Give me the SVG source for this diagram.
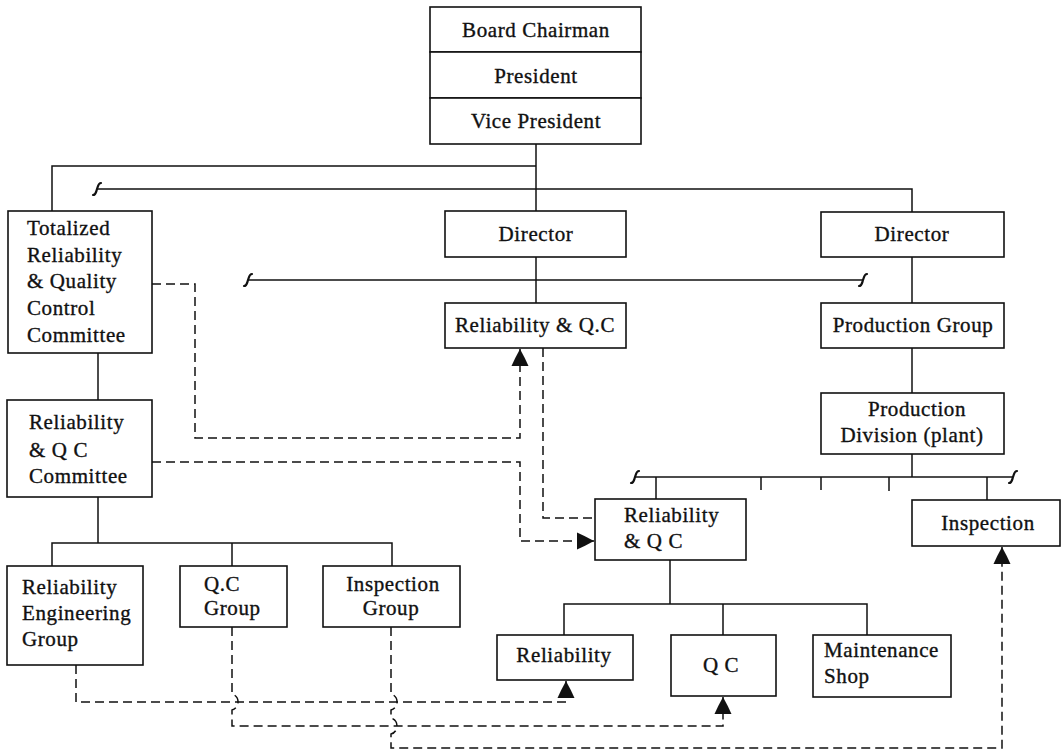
<svg xmlns="http://www.w3.org/2000/svg" width="1062" height="751" viewBox="0 0 1062 751">
<style>
  .box{fill:#fff;stroke:#111;stroke-width:1.6}
  .t{font-family:"Liberation Serif","Times New Roman",serif;font-size:21px;letter-spacing:0.6px;fill:#111;stroke:#111;stroke-width:0.35}
  .c{text-anchor:middle}
  .ln{fill:none;stroke:#111;stroke-width:1.5}
  .ds{fill:none;stroke:#111;stroke-width:1.5;stroke-dasharray:9 5}
  .sq{fill:none;stroke:#111;stroke-width:2.2;stroke-linecap:round}
</style>
<defs>
  <marker id="ah" markerUnits="userSpaceOnUse" markerWidth="22" markerHeight="22" refX="17" refY="9" orient="auto">
    <path d="M0,0.5 Q8,4 17,9 Q8,14 0,17.5 Z" fill="#111"/>
  </marker>
</defs>
<rect width="1062" height="751" fill="#fff"/>

<g id="connectors">
  <path class="ln" d="M536,144 V211"/>
  <path class="ln" d="M536,166 H52 V211"/>
  <path class="ln" d="M97,189 H912 V212"/>
  <path class="ln" d="M536,257 V303"/>
  <path class="ln" d="M248,280 H863"/>
  <path class="ln" d="M912,257 V303"/>
  <path class="ln" d="M912,348 V393"/>
  <path class="ln" d="M912,454 V477"/>
  <path class="ln" d="M635,477 H1013"/>
  <path class="ln" d="M656,477 V499 M761,477 V490 M821,477 V490 M889,477 V491 M987,477 V500"/>
  <path class="ln" d="M98,353 V400"/>
  <path class="ln" d="M98,497 V543 M52,566 V543 H392 V566 M232,543 V566"/>
  <path class="ln" d="M670,560 V604 M564,635 V604 H867 V635 M723,604 V635"/>
  <path class="sq" d="M101,183 C98,183 98,187 97,189 C96,192 96,195 93,195"/>
  <path class="sq" d="M252,274 C249,274 249,278 248,280 C247,283 247,286 244,286"/>
  <path class="sq" d="M867,274 C864,274 864,278 863,280 C862,283 862,286 859,286"/>
  <path class="sq" d="M639,471 C636,471 636,475 635,477 C634,480 634,483 631,483"/>
  <path class="sq" d="M1017,471 C1014,471 1014,475 1013,477 C1012,480 1012,483 1009,483"/>
  <path class="ds" d="M152,284 H195 V438 H520 V349" marker-end="url(#ah)"/>
  <path class="ds" d="M152,462 H520 V541 H594" marker-end="url(#ah)"/>
  <path class="ds" d="M543,348 V518 H595"/>
  <path class="ds" d="M76,665 V702 H566 V681" marker-end="url(#ah)"/>
  <path class="ds" d="M232,627 V694 C240,696 240,708 232,710 V726 H723 V697" marker-end="url(#ah)"/>
  <path class="ds" d="M391,627 V694 C399,696 399,708 391,710 V718 C399,720 399,732 391,734 V748 H1002 V547" marker-end="url(#ah)"/>
</g>

<g id="top-stack">
  <rect class="box" x="430" y="7" width="211" height="45"/>
  <rect class="box" x="430" y="52" width="211" height="46"/>
  <rect class="box" x="430" y="98" width="211" height="46"/>
  <text class="t c" x="536" y="37">Board Chairman</text>
  <text class="t c" x="536" y="83">President</text>
  <text class="t c" x="536" y="128">Vice President</text>
</g>

<g id="totalized-committee">
  <rect class="box" x="8" y="211" width="144" height="142"/>
  <text class="t" x="27" y="235">Totalized</text>
  <text class="t" x="27" y="262">Reliability</text>
  <text class="t" x="27" y="288">&amp; Quality</text>
  <text class="t" x="27" y="315">Control</text>
  <text class="t" x="27" y="342">Committee</text>
</g>

<g id="director-mid">
  <rect class="box" x="445" y="211" width="181" height="46"/>
  <text class="t c" x="536" y="241">Director</text>
</g>

<g id="director-right">
  <rect class="box" x="821" y="212" width="183" height="45"/>
  <text class="t c" x="912" y="241">Director</text>
</g>

<g id="rel-qc-top">
  <rect class="box" x="445" y="303" width="181" height="45"/>
  <text class="t c" x="535" y="332">Reliability &amp; Q.C</text>
</g>

<g id="production-group">
  <rect class="box" x="821" y="303" width="183" height="45"/>
  <text class="t c" x="913" y="332">Production Group</text>
</g>

<g id="production-division">
  <rect class="box" x="821" y="393" width="183" height="61"/>
  <text class="t c" x="917" y="416">Production</text>
  <text class="t c" x="912" y="442">Division (plant)</text>
</g>

<g id="rel-qc-committee">
  <rect class="box" x="7" y="400" width="145" height="97"/>
  <text class="t" x="29" y="429">Reliability</text>
  <text class="t" x="29" y="457">&amp; Q C</text>
  <text class="t" x="29" y="483">Committee</text>
</g>

<g id="rel-qc-plant">
  <rect class="box" x="595" y="499" width="151" height="61"/>
  <text class="t" x="624" y="522">Reliability</text>
  <text class="t" x="624" y="548">&amp; Q C</text>
</g>

<g id="inspection">
  <rect class="box" x="912" y="500" width="148" height="46"/>
  <text class="t c" x="988" y="530">Inspection</text>
</g>

<g id="rel-eng-group">
  <rect class="box" x="7" y="566" width="136" height="99"/>
  <text class="t" x="22" y="594">Reliability</text>
  <text class="t" x="22" y="620">Engineering</text>
  <text class="t" x="22" y="646">Group</text>
</g>

<g id="qc-group">
  <rect class="box" x="180" y="566" width="107" height="61"/>
  <text class="t" x="204" y="591">Q.C</text>
  <text class="t" x="204" y="615">Group</text>
</g>

<g id="inspection-group">
  <rect class="box" x="323" y="566" width="137" height="61"/>
  <text class="t c" x="393" y="591">Inspection</text>
  <text class="t c" x="391" y="615">Group</text>
</g>

<g id="reliability">
  <rect class="box" x="497" y="635" width="136" height="45"/>
  <text class="t c" x="564" y="662">Reliability</text>
</g>

<g id="qc">
  <rect class="box" x="671" y="635" width="105" height="61"/>
  <text class="t c" x="721" y="672">Q C</text>
</g>

<g id="maintenance-shop">
  <rect class="box" x="813" y="635" width="138" height="62"/>
  <text class="t" x="824" y="657">Maintenance</text>
  <text class="t" x="824" y="683">Shop</text>
</g>
</svg>
